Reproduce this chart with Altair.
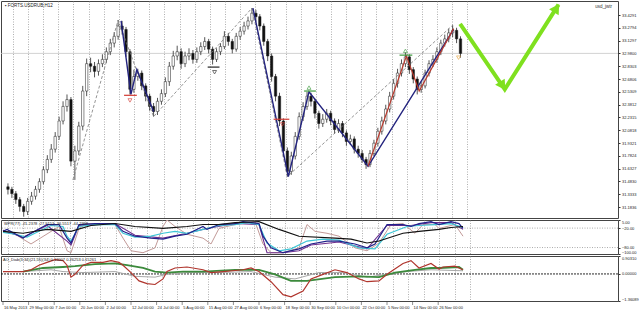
import altair as alt
import pandas as pd

# ---------------- data ----------------
title_text = "FORTS.USDRUB,H12"
corner_text = "usd_jwtr"
wpr_text = "WPR(77) -21.2378 -27.9153 -36.5517 -44.2368"
ao_text = "AO_Diab(3,34)(21,55)(34) 0.16007 0.26253 0.15261"

first_open = 31.42
bar_close = [31.39, 31.34, 31.27, 31.19, 31.13, 31.25, 31.31, 31.39, 31.48, 31.62,
             31.74, 31.86, 32.01, 32.19, 32.36, 32.44, 31.72, 31.84, 32.13, 32.54,
             32.86, 32.83, 32.77, 32.86, 32.91, 33.00, 33.10, 33.18, 33.30, 33.26,
             33.00, 32.56, 32.71, 32.75, 32.60, 32.48, 32.36, 32.30, 32.42, 32.51,
             32.65, 32.83, 32.95, 33.00, 32.86, 32.95, 32.98, 32.91, 33.00, 33.06,
             33.12, 33.03, 32.91, 33.00, 33.06, 33.18, 33.12, 33.03, 33.18, 33.24,
             33.30, 33.36, 33.45, 33.41, 33.30, 33.12, 32.95, 32.71, 32.48, 32.19,
             31.84, 31.60, 31.78, 32.01, 32.24, 32.36, 32.48, 32.42, 32.28, 32.16,
             32.21, 32.28, 32.19, 32.09, 32.16, 32.05, 31.95, 31.98, 31.86, 31.81,
             31.74, 31.68, 31.81, 31.93, 32.07, 32.19, 32.33, 32.48, 32.63, 32.75,
             32.86, 32.94, 32.79, 32.68, 32.56, 32.60, 32.75, 32.86, 32.91, 33.00,
             33.10, 33.15, 33.22, 33.25, 33.15, 32.98]
bar_high = [31.46, 31.42, 31.37, 31.30, 31.22, 31.29, 31.36, 31.43, 31.52, 31.66,
            31.79, 31.92, 32.06, 32.24, 32.42, 32.50, 32.47, 31.90, 32.18, 32.60,
            32.92, 32.93, 32.88, 32.91, 32.97, 33.05, 33.15, 33.23, 33.37, 33.36,
            33.29, 33.03, 32.79, 32.80, 32.78, 32.63, 32.51, 32.40, 32.46, 32.56,
            32.70, 32.88, 33.01, 33.07, 33.04, 33.00, 33.04, 33.02, 33.05, 33.11,
            33.17, 33.15, 33.06, 33.04, 33.10, 33.24, 33.22, 33.15, 33.22, 33.29,
            33.35, 33.41, 33.51, 33.49, 33.44, 33.33, 33.15, 32.98, 32.74, 32.52,
            32.22, 31.88, 31.83, 32.06, 32.29, 32.41, 32.53, 32.52, 32.45, 32.31,
            32.27, 32.33, 32.31, 32.22, 32.21, 32.19, 32.08, 32.03, 32.01, 31.90,
            31.85, 31.77, 31.85, 31.97, 32.11, 32.24, 32.38, 32.53, 32.68, 32.80,
            32.91, 32.99, 32.97, 32.82, 32.71, 32.65, 32.79, 32.90, 32.96, 33.05,
            33.14, 33.20, 33.27, 33.31, 33.28, 33.18]
bar_low = [31.33, 31.29, 31.22, 31.13, 31.07, 31.09, 31.21, 31.27, 31.35, 31.45,
           31.58, 31.70, 31.82, 31.97, 32.15, 32.30, 31.66, 31.50, 31.79, 32.08,
           32.48, 32.76, 32.70, 32.72, 32.82, 32.87, 32.96, 33.05, 33.14, 33.20,
           32.94, 32.50, 32.52, 32.66, 32.55, 32.42, 32.31, 32.24, 32.26, 32.38,
           32.47, 32.60, 32.79, 32.90, 32.80, 32.82, 32.90, 32.86, 32.87, 32.96,
           33.02, 32.98, 32.85, 32.88, 32.96, 33.03, 33.07, 32.98, 33.00, 33.14,
           33.20, 33.26, 33.32, 33.35, 33.25, 33.07, 32.89, 32.65, 32.42, 32.13,
           31.77, 31.54, 31.56, 31.74, 31.97, 32.19, 32.32, 32.36, 32.22, 32.10,
           32.12, 32.17, 32.14, 32.04, 32.05, 32.00, 31.90, 31.91, 31.81, 31.76,
           31.70, 31.63, 31.65, 31.78, 31.89, 32.03, 32.15, 32.29, 32.44, 32.58,
           32.71, 32.82, 32.74, 32.63, 32.50, 32.52, 32.57, 32.71, 32.82, 32.87,
           32.96, 33.06, 33.11, 33.17, 33.10, 32.93]

price_ticks = [33.4291, 33.2794, 33.1297, 32.9800, 32.8303, 32.6806, 32.5309, 32.3812,
               32.2315, 32.0818, 31.9321, 31.7824, 31.6327, 31.4830, 31.3333, 31.1836]
bid_price = 32.98

date_pos = [0, 6.4, 12.8, 19.2, 25.6, 32, 38.4, 44.8, 51.2, 57.6, 64, 70.4, 76.8,
            83.2, 89.6, 96, 102.4, 108.8]
date_labels = ["16 May 2013", "29 May 00:00", "7 Jun 00:00", "20 Jun 00:00", "2 Jul 00:00",
               "12 Jul 00:00", "24 Jul 00:00", "5 Aug 00:00", "15 Aug 00:00", "27 Aug 00:00",
               "6 Sep 00:00", "18 Sep 00:00", "30 Sep 00:00", "10 Oct 00:00", "22 Oct 00:00",
               "5 Nov 00:00", "14 Nov 00:00", "26 Nov 00:00"]

# zigzag (dashed) swing points
zz_k = [16.5, 28, 37, 62, 71, 113]
zz_p = [31.50, 33.37, 32.24, 33.51, 31.54, 33.31]
# navy pattern lines (two legs)
pat1_k = [28.75, 31.25, 32.75, 37]
pat1_p = [33.36, 32.50, 32.79, 32.30]
pat2_k = [62.25, 71.25, 76.5, 91.5, 113.25]
pat2_p = [33.51, 31.54, 32.53, 31.66, 33.26]
# red pattern line
pat3_k = [91.5, 101.25, 104.5, 113.25]
pat3_p = [31.66, 32.95, 32.54, 33.27]

# signal markers: level lines and icons
mark_kind = ["sell", "stop", "sell", "buy", "buy"]
mark_k1 = [29.5, 50.75, 67.5, 75.25, 99.5]
mark_k2 = [32.75, 53.75, 71.5, 78.25, 102.75]
mark_p = [32.49, 32.82, 32.21, 32.54, 32.96]
icon_k = [31.0, 52.5, 69.75, 76.5, 101.0, 114.5]
icon_p = [32.43, 32.76, 32.15, 32.58, 33.01, 32.93]
icon_kind = ["sell", "stop", "sell", "buy", "buy", "exit"]

# forecast arrow
arrow_k = [114.9, 126.25, 139.9]
arrow_p = [33.325, 32.56, 33.55]
head1 = (125.7, 32.60)
head2 = (139.4, 33.51)

# indicator 1 (WPR family)
navy_k = [0, 1, 5, 7, 11, 14, 16, 17, 19, 23, 28, 30, 33, 37, 40, 43, 46, 50, 51, 54, 58, 60, 64, 65,
          67, 70, 74, 77, 81, 84, 88, 91, 93, 96, 100, 102, 104, 107, 109, 112, 114, 115]
navy_v = [-30, -24, -51, -36, -9, -9, -51, -66, -9, -6, -6, -30, -45, -51, -54, -45, -39, -15, -24, -9,
          -6, 0, -6, -45, -81, -96, -84, -69, -60, -60, -69, -81, -69, -9, -9, -15, -6, 0, -9, 0, -6, -21]
pink_k = [0, 3, 7, 14, 16, 17, 19, 21, 28, 30, 32, 35, 38, 40, 41, 43, 46, 50, 52, 54, 58, 63, 65, 67,
          70, 74, 76, 78, 81, 84, 88, 91, 94, 97, 100, 103, 105, 108, 109, 113, 115]
pink_v = [-30, -39, -69, -15, -90, -96, -21, -6, -9, -51, -90, -96, -81, -15, 5, -15, -39, -51, -69, -21,
          -9, 0, -69, -96, -96, -81, -9, -30, -36, -45, -81, -90, -66, -9, -6, -36, -9, -9, -21, -9, -45]
cyan_k = [0, 3, 6, 9, 12, 15, 16, 17, 19, 23, 28, 30, 33, 37, 40, 43, 46, 50, 54, 58, 61, 64, 66, 69,
          72, 76, 80, 84, 89, 93, 96, 101, 104, 108, 112, 115]
cyan_v = [-33, -39, -48, -30, -12, -15, -45, -60, -15, -9, -9, -36, -48, -45, -36, -30, -36, -24, -12, -9,
          -3, -9, -66, -90, -84, -60, -54, -57, -81, -84, -39, -15, -12, -9, -6, -18]
purple_k = [0, 5, 11, 16, 17, 19, 28, 33, 40, 46, 51, 58, 64, 66, 70, 74, 77, 84, 91, 96, 102, 107, 112, 115]
purple_v = [-27, -48, -12, -60, -72, -12, -6, -42, -51, -36, -21, -6, -9, -96, -96, -90, -72, -63, -84, -12,
            -12, -3, -3, -24]
black_k = [0, 5, 11, 17, 22, 28, 33, 40, 46, 50, 54, 58, 64, 69, 74, 83, 87, 91, 94, 100, 104, 109, 112, 115]
black_v = [-30, -36, -24, -30, -12, -6, -15, -21, -15, -9, -9, -3, 0, -24, -45, -51, -54, -66, -60, -36,
           -30, -24, -18, -15]
wpr_levels = [-20, -80]
wpr_ticks = [5, -20, -80, -100]

# indicator 2 (AO family)
red_k = [0, 3, 5, 7, 9, 11, 13, 15, 16, 17, 18, 20, 22, 25, 27, 29, 30, 32, 34, 36, 38, 40, 41, 43, 46,
         50, 52, 55, 60, 62, 64, 67, 70, 72, 75, 77, 80, 83, 86, 89, 91, 94, 96, 100, 102, 104, 107,
         109, 110, 113, 115]
red_v = [0.12, 0.12, 0.12, 0.21, 0.44, 0.58, 0.72, 0.67, 0.44, -0.16, -0.02, 0.44, 0.58, 0.58, 0.67,
         0.58, 0.44, 0.07, -0.35, -0.49, -0.53, -0.25, 0.12, 0.30, 0.35, 0.21, 0.07, 0.12, 0.21, 0.30,
         0.12, -0.39, -1.04, -1.15, -0.86, -0.25, -0.02, 0.21, 0.07, -0.25, -0.39, -0.35, -0.02, 0.53,
         0.67, 0.30, 0.53, 0.25, 0.35, 0.39, 0.21]
green_k = [5, 10, 15, 18, 23, 28, 31, 35, 38, 41, 45, 50, 58, 64, 68, 72, 76, 83, 89, 94, 98, 103, 107,
           109, 114, 115]
green_v = [0.12, 0.30, 0.35, 0.39, 0.49, 0.53, 0.44, 0.30, 0.12, 0.07, 0.12, 0.12, 0.21, 0.21, -0.02,
           -0.35, -0.35, -0.16, -0.12, -0.16, 0.07, 0.21, 0.30, 0.30, 0.35, 0.21]
gray_k = [5, 12, 15, 20, 28, 33, 38, 41, 46, 54, 62, 68, 73, 79, 85, 91, 96, 101, 107, 115]
gray_v = [0.12, 0.21, 0.12, 0.07, 0.12, -0.12, -0.16, -0.02, 0.07, 0.07, 0.12, -0.16, -0.25, 0.07, 0.07,
          -0.16, -0.02, 0.12, 0.21, 0.16]
ao_ticks = [0.9031, 0.0, -1.36089]

# ---------------- layout / styles ----------------
W = 617
H_MAIN, H_1, H_2 = 217, 34, 45
FONT = "Liberation Sans"
XS = alt.Scale(domain=[-0.5, 153.75], nice=False, zero=False)
grid_vals = [1.25 + 3.85 * i for i in range(31)]
X_AXIS = alt.Axis(values=grid_vals, grid=True, gridColor="#8c8c8c", gridDash=[1, 1.5],
                  gridWidth=0.7, labels=False, ticks=False, domain=False, title=None,
                  minExtent=0, maxExtent=0, offset=0)


def y_axis(values, fmt, flush=False):
    return alt.Axis(orient="right", values=values, format=fmt, labelFontSize=4, labelFont=FONT,
                    tickSize=2, tickColor="#333", labelColor="#222", labelPadding=1.5,
                    domain=False, grid=False, title=None, labelOverlap=False, minExtent=0,
                    labelFlush=flush)


YS_MAIN = alt.Scale(domain=[31.055, 33.593], nice=False, zero=False)
Y_MAIN_AXIS = y_axis(price_ticks, ".4f")
YS_1 = alt.Scale(domain=[-100, 5], nice=False, zero=False)
Y1_AXIS = y_axis(wpr_ticks, ".2f", True)
YS_2 = alt.Scale(domain=[-1.36089, 0.9031], nice=False, zero=False)
Y2_AXIS = y_axis(ao_ticks, ".5f", True)


def xq(field):
    return alt.X(f"{field}:Q", scale=XS, axis=X_AXIS)


def yq(field, scale, axis):
    return alt.Y(f"{field}:Q", scale=scale, axis=axis)


# ---------------- main pane ----------------
bar_open = [first_open] + bar_close[:-1]
bars = pd.DataFrame({"k": list(range(len(bar_close))), "o": bar_open, "c": bar_close,
                     "h": bar_high, "l": bar_low})

wicks = alt.Chart(bars).mark_rule(color="#2a2a2a", strokeWidth=0.8).encode(
    x=xq("k"), y=yq("l", YS_MAIN, Y_MAIN_AXIS), y2="h:Q")
bodies = alt.Chart(bars).mark_bar(width=2.4, stroke="#1a1a1a", strokeWidth=0.5).encode(
    x=xq("k"), y=yq("o", YS_MAIN, Y_MAIN_AXIS), y2="c:Q",
    fill=alt.condition("datum.c >= datum.o", alt.value("#ffffff"), alt.value("#111111")))

bid = alt.Chart(pd.DataFrame({"p": [bid_price]})).mark_rule(color="#c8c8c8", strokeWidth=0.8).encode(
    y=yq("p", YS_MAIN, Y_MAIN_AXIS))


def poly(ks, ps, seg="a"):
    return pd.DataFrame({"k": ks, "p": ps, "o": list(range(len(ks))), "seg": seg})


zz = alt.Chart(poly(zz_k, zz_p)).mark_line(color="#7a7a7a", strokeWidth=0.8, strokeDash=[3, 2]).encode(
    x=xq("k"), y=yq("p", YS_MAIN, Y_MAIN_AXIS), order="o:Q")
pat_df = pd.concat([poly(pat1_k, pat1_p, "a"), poly(pat2_k, pat2_p, "b")])
pat = alt.Chart(pat_df).mark_line(color="#23237e", strokeWidth=1.4).encode(
    x=xq("k"), y=yq("p", YS_MAIN, Y_MAIN_AXIS), detail="seg:N", order="o:Q")
pat_red = alt.Chart(poly(pat3_k, pat3_p)).mark_line(color="#b83a2e", strokeWidth=1.2).encode(
    x=xq("k"), y=yq("p", YS_MAIN, Y_MAIN_AXIS), order="o:Q")

kind_scale = alt.Scale(domain=["sell", "stop", "buy", "exit"],
                       range=["#d23a32", "#222222", "#3c9a3c", "#e3a23c"])
mlines = alt.Chart(pd.DataFrame({"k": mark_k1, "k2": mark_k2, "p": mark_p, "kind": mark_kind})).mark_rule(
    strokeWidth=1.2).encode(x=xq("k"), x2="k2:Q", y=yq("p", YS_MAIN, Y_MAIN_AXIS),
                            color=alt.Color("kind:N", scale=kind_scale, legend=None))
icons_df = pd.DataFrame({"k": icon_k, "p": icon_p, "kind": icon_kind})
icons_dn = alt.Chart(icons_df).transform_filter("datum.kind != 'buy'").mark_point(
    shape="triangle-down", filled=False, size=16, strokeWidth=0.9).encode(
    x=xq("k"), y=yq("p", YS_MAIN, Y_MAIN_AXIS), color=alt.Color("kind:N", scale=kind_scale, legend=None))
icons_up = alt.Chart(icons_df).transform_filter("datum.kind == 'buy'").mark_point(
    shape="triangle-up", filled=False, size=16, strokeWidth=0.9).encode(
    x=xq("k"), y=yq("p", YS_MAIN, Y_MAIN_AXIS), color=alt.Color("kind:N", scale=kind_scale, legend=None))

ARROW = "#7fe01f"
arrow = alt.Chart(poly(arrow_k, arrow_p)).mark_line(color=ARROW, strokeWidth=4, strokeJoin="miter",
                                                    clip=True).encode(
    x=xq("k"), y=yq("p", YS_MAIN, Y_MAIN_AXIS), order="o:Q")
h1 = alt.Chart(pd.DataFrame({"k": [head1[0]], "p": [head1[1]]})).mark_point(
    shape="triangle-up", filled=True, size=130, angle=147, color=ARROW, opacity=1, clip=True).encode(
    x=xq("k"), y=yq("p", YS_MAIN, Y_MAIN_AXIS))
h2 = alt.Chart(pd.DataFrame({"k": [head2[0]], "p": [head2[1]]})).mark_point(
    shape="triangle-up", filled=True, size=130, angle=33, color=ARROW, opacity=1, clip=True).encode(
    x=xq("k"), y=yq("p", YS_MAIN, Y_MAIN_AXIS))

title_t = alt.Chart(pd.DataFrame({"t": ["\u25aa " + title_text]})).mark_text(
    align="left", baseline="middle", fontSize=4.5, font=FONT, color="#222").encode(
    x=alt.value(4), y=alt.value(5), text="t:N")
corner_t = alt.Chart(pd.DataFrame({"t": [corner_text]})).mark_text(
    align="right", baseline="middle", fontSize=4.5, font=FONT, color="#333").encode(
    x=alt.value(W - 6), y=alt.value(6), text="t:N")

main = alt.layer(bid, wicks, bodies, zz, pat, pat_red, mlines, icons_dn, icons_up, arrow, h1, h2,
                 title_t, corner_t).properties(width=W, height=H_MAIN)

# ---------------- indicator 1 ----------------


def ind_line(ks, vs, color, width, ys, ax):
    return alt.Chart(pd.DataFrame({"k": ks, "v": vs})).mark_line(color=color, strokeWidth=width,
                                                                clip=True).encode(
        x=xq("k"), y=yq("v", ys, ax))


lv1 = alt.Chart(pd.DataFrame({"v": wpr_levels})).mark_rule(color="#8a8a8a", strokeDash=[1, 1.5],
                                                           strokeWidth=0.7).encode(y=yq("v", YS_1, Y1_AXIS))
wpr_t = alt.Chart(pd.DataFrame({"t": [wpr_text]})).mark_text(
    align="left", baseline="middle", fontSize=4, font=FONT, color="#222").encode(
    x=alt.value(3), y=alt.value(4), text="t:N")
pane1 = alt.layer(
    lv1,
    ind_line(pink_k, pink_v, "#c29a98", 1.0, YS_1, Y1_AXIS),
    ind_line(purple_k, purple_v, "#6e2f8e", 1.1, YS_1, Y1_AXIS),
    ind_line(cyan_k, cyan_v, "#3fc6d6", 1.2, YS_1, Y1_AXIS),
    ind_line(navy_k, navy_v, "#20208a", 1.2, YS_1, Y1_AXIS),
    ind_line(black_k, black_v, "#111111", 1.1, YS_1, Y1_AXIS),
    wpr_t,
).properties(width=W, height=H_1)

# ---------------- indicator 2 ----------------
zero = alt.Chart(pd.DataFrame({"v": [0.0]})).mark_rule(color="#111", strokeDash=[2, 1],
                                                       strokeWidth=0.9).encode(y=yq("v", YS_2, Y2_AXIS))
ao_t = alt.Chart(pd.DataFrame({"t": [ao_text]})).mark_text(
    align="left", baseline="middle", fontSize=4, font=FONT, color="#222").encode(
    x=alt.value(2), y=alt.value(4), text="t:N")
dates = alt.Chart(pd.DataFrame({"k": date_pos, "t": date_labels})).mark_text(
    align="left", baseline="middle", fontSize=4, font=FONT, color="#222", dx=1).encode(
    x=xq("k"), y=alt.value(H_2 + 7), text="t:N")
date_ticks = alt.Chart(pd.DataFrame({"k": date_pos})).mark_rule(color="#444", strokeWidth=0.6).encode(
    x=xq("k"), y=alt.value(H_2), y2=alt.value(H_2 + 4))
pane2 = alt.layer(
    zero,
    ind_line(gray_k, gray_v, "#a8a8a8", 1.0, YS_2, Y2_AXIS),
    ind_line(green_k, green_v, "#3c8a3c", 1.8, YS_2, Y2_AXIS),
    ind_line(red_k, red_v, "#b0352d", 1.2, YS_2, Y2_AXIS),
    ao_t, date_ticks, dates,
).properties(width=W, height=H_2)

chart = alt.vconcat(main, pane1, pane2, spacing=2, bounds="flush").properties(
    padding={"left": 0, "top": 0, "right": 0, "bottom": 0},
    background="white",
).configure_view(stroke="#444", strokeWidth=1)

chart.save("out.html", embed_options={"renderer": "svg", "actions": False})
